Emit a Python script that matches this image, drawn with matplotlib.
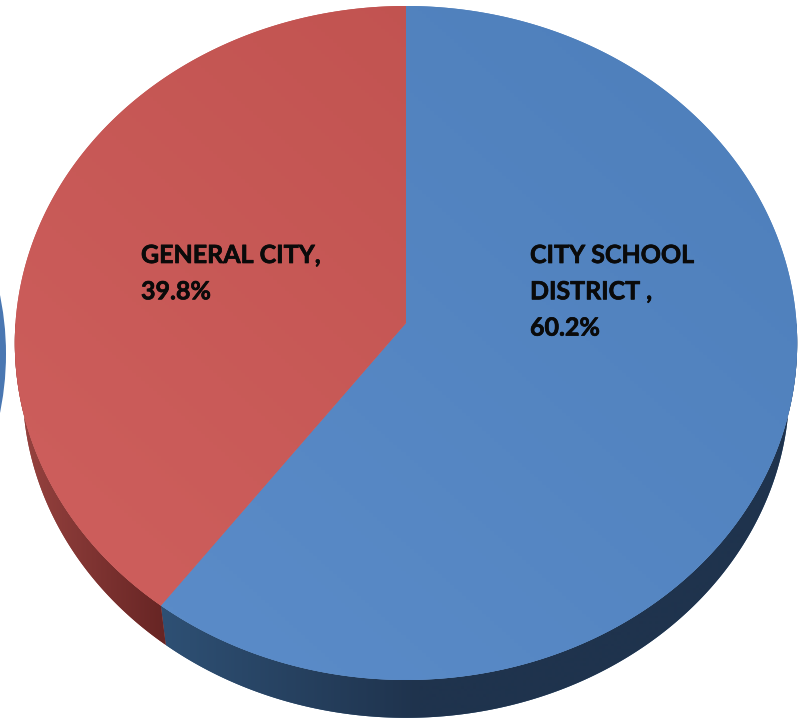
import numpy as np
import matplotlib
matplotlib.use("Agg")
import matplotlib.pyplot as plt
import matplotlib.patheffects as pe
from matplotlib.colors import LinearSegmentedColormap
from matplotlib.patches import Ellipse, Polygon

plt.rcParams['font.family'] = ['Lato', 'DejaVu Sans']

# Data
categories = ["CITY SCHOOL\nDISTRICT ,", "GENERAL CITY,"]
values = [60.2, 39.8]

# top face colours: (upper right, lower left)
face_colors = [("#4f80bc", "#5b8cc9"), ("#bf514e", "#ce5f5d")]
# side colours: (left end, right end) of the strip
side_colors = [("#2e5074", "#1f334d"), ("#96423f", "#672524")]
side_range = [(162, 420), (22, 165)]
label_pos = [(530, 244), (141, 244)]

# pie geometry in pixels
cx, cy = 406, 323
rx, ry = 390.5, 335.8
persp = 0.0593
depth = 45
shrink = 0.98


def project(angle):
    # angle is clockwise from the top, degrees
    t = np.radians(angle)
    w = 1 + persp * np.cos(t)
    return cx + rx * np.sin(t) / w, cy - ry * np.cos(t) / w


def rim(angle):
    x, y = project(angle)
    return cx + shrink * (x - cx), cy + depth + shrink * (y - cy)


def clipped_gradient(ax, pts, grad, colors, zorder, extent=(0, 803, 718, 0)):
    # solid shape under the gradient hides the seam of the clip edge
    poly = Polygon(pts, closed=True, fc=colors[0], ec="none", zorder=zorder)
    ax.add_patch(poly)
    cmap = LinearSegmentedColormap.from_list("c", colors)
    im = ax.imshow(grad, cmap=cmap, vmin=0, vmax=1, extent=extent, aspect="auto", zorder=zorder)
    im.set_clip_path(poly)


fig = plt.figure(figsize=(8.03, 7.18), dpi=100)
ax = fig.add_axes([0, 0, 1, 1])
ax.axis("off")

# edge of the neighbouring pie, cut off by the picture
ax.add_patch(Ellipse((-385, 354), 782, 674, color="#4a77b2", lw=0))

stops = np.cumsum([0] + values) / sum(values) * 360

# side wall first, only the lower part shows
for i in range(len(values)):
    a = np.linspace(max(stops[i], 90), min(stops[i + 1], 270), 300)
    x0, y0 = project(a)
    x1, y1 = rim(a)
    pts = np.column_stack([np.r_[x0, x1[::-1]], np.r_[y0, y1[::-1]]])
    xs = np.linspace(0, 803, 804)
    f = np.clip((xs - side_range[i][0]) / (side_range[i][1] - side_range[i][0]), 0, 1)
    clipped_gradient(ax, pts, f[np.newaxis, :], side_colors[i], 2)

# top face, gradient clipped to each slice
yy, xx = np.mgrid[0:1:200j, 0:1:200j]
grad = np.clip((yy + (1 - xx)) / 2 * 1.3 - 0.15, 0, 1)
for i in range(len(values)):
    a = np.linspace(stops[i], stops[i + 1], 400)
    x, y = project(a)
    pts = np.column_stack([np.r_[cx, x], np.r_[cy, y]])
    clipped_gradient(ax, pts, grad, face_colors[i], 3)

ax.set_xlim(0, 803)
ax.set_ylim(718, 0)

# labels
for name, val, (lx, ly) in zip(categories, values, label_pos):
    ax.text(lx, ly, "%s\n%.1f%%" % (name, val), fontsize=18, fontweight="bold", color="#0a0a0a",
            ha="left", va="top", linespacing=1.7, zorder=5,
            path_effects=[pe.withStroke(linewidth=0.5, foreground="#0a0a0a")])

fig.savefig("out.png", dpi=100)
